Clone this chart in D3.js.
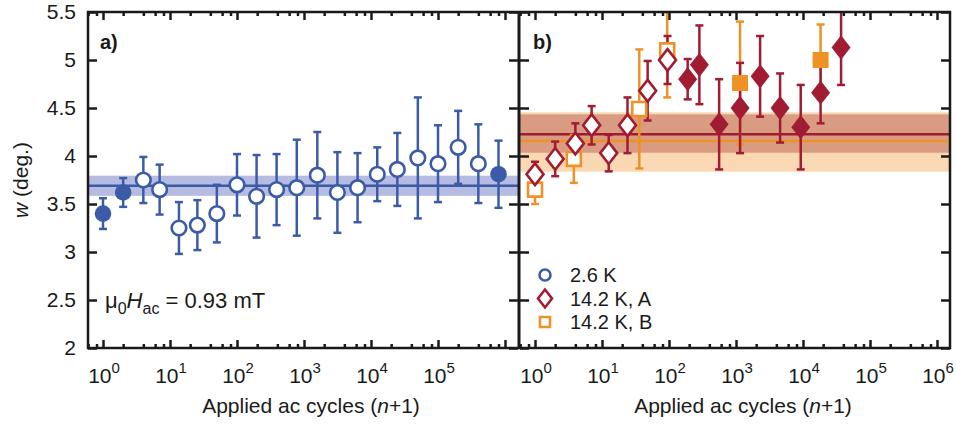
<!DOCTYPE html>
<html>
<head>
<meta charset="utf-8">
<script src="https://cdn.jsdelivr.net/npm/d3@7"></script>
<style>
  body { margin: 0; background: #fff; }
  text { font-family: "Liberation Sans", Arial, Helvetica, sans-serif; fill: #1a1a1a; }
</style>
</head>
<body>
<div id="canvas"></div>
<script>
// panel a: 2.6 K
let aN = [1, 2, 4, 7, 13.6, 25.6, 50, 100, 196, 390, 780, 1580, 3150, 6300, 12400, 24700, 50000, 100000, 200000, 400000, 800000]
let aW = [3.40, 3.62, 3.75, 3.65, 3.25, 3.28, 3.40, 3.70, 3.58, 3.65, 3.67, 3.80, 3.62, 3.67, 3.81, 3.86, 3.98, 3.92, 4.09, 3.92, 3.81]
let aErr = [0.16, 0.15, 0.24, 0.26, 0.27, 0.26, 0.30, 0.32, 0.43, 0.37, 0.50, 0.45, 0.42, 0.36, 0.28, 0.38, 0.63, 0.40, 0.38, 0.41, 0.35]
let aFilled = [1, 1, 0, 0, 0, 0, 0, 0, 0, 0, 0, 0, 0, 0, 0, 0, 0, 0, 0, 0, 1]

// panel b: 14.2 K, A
let bAN = [1, 2, 4, 7, 12.6, 24, 48, 95, 190, 284, 560, 1150, 2290, 4550, 9250, 18300, 37000]
let bAW = [3.81, 3.97, 4.13, 4.32, 4.03, 4.32, 4.68, 5.00, 4.80, 4.95, 4.33, 4.50, 4.83, 4.50, 4.30, 4.66, 5.13]
let bAErr = [0.13, 0.18, 0.21, 0.20, 0.19, 0.29, 0.31, 0.25, 0.21, 0.41, 0.47, 0.47, 0.42, 0.36, 0.44, 0.32, 0.39]
let bAFilled = [0, 0, 0, 0, 0, 0, 0, 0, 1, 1, 1, 1, 1, 1, 1, 1, 1]

// panel b: 14.2 K, B
let bBN = [1, 3.8, 36, 94, 1150, 18300]
let bBW = [3.65, 3.97, 4.49, 5.10, 4.76, 5.00]
let bBErr = [0.15, 0.25, 0.62, 0.49, 0.64, 0.37]
let bBFilled = [0, 0, 0, 0, 1, 1]

// fits: [mean, low, high]
let fitA = [3.69, 3.585, 3.795]
let fitBA = [4.226, 4.034, 4.434]
let fitBB = [4.156, 3.837, 4.455]

let yTicks = [2, 2.5, 3, 3.5, 4, 4.5, 5, 5.5]
let xMajorA = [0, 1, 2, 3, 4, 5]
let xMajorB = [0, 1, 2, 3, 4, 5, 6]

window.onload = function () { setup() }

function setup () {
  const W = 956, H = 424
  const top = 12, bottom = 348
  const blue = "#3b5ba8", red = "#a11c33", orange = "#ef9226"

  let svg = d3.select("#canvas").append("svg")
    .attr("width", W).attr("height", H)

  let y = d3.scaleLinear().domain([2, 5.5]).range([bottom, top])
  let logMin = Math.pow(10, -0.224), logMax = Math.pow(10, 6.194)

  let xa = d3.scaleLog().domain([logMin, logMax]).range([88, 518])
  let xb = d3.scaleLog().domain([logMin, logMax]).range([520, 950])

  function minors (x) {
    let out = []
    for (let e = -1; e <= 6; e++) {
      [2, 4, 6, 8].forEach(m => {
        let v = m * Math.pow(10, e)
        if (v > x.domain()[0] && v < x.domain()[1]) out.push(v)
      })
    }
    return out
  }

  function drawPanel (x, left, right, majors, showY) {
    let g = svg.append("g")

    let majorVals = d3.range(0, 7).map(e => Math.pow(10, e)).filter(v => v < x.domain()[1])

    // bottom & top ticks
    g.append("g").attr("transform", `translate(0,${bottom})`)
      .call(d3.axisBottom(x).tickValues(majorVals).tickSize(-8).tickFormat(""))
    g.append("g").attr("transform", `translate(0,${bottom})`)
      .call(d3.axisBottom(x).tickValues(minors(x)).tickSize(-4).tickFormat(""))
    g.append("g").attr("transform", `translate(0,${top})`)
      .call(d3.axisTop(x).tickValues(majorVals).tickSize(-8).tickFormat(""))
    g.append("g").attr("transform", `translate(0,${top})`)
      .call(d3.axisTop(x).tickValues(minors(x)).tickSize(-4).tickFormat(""))

    // left & right ticks
    let yl = g.append("g").attr("transform", `translate(${left},0)`)
      .call(d3.axisLeft(y).tickValues(yTicks).tickSize(-9).tickPadding(12)
        .tickFormat(showY ? d3.format("") : ""))
    g.append("g").attr("transform", `translate(${right},0)`)
      .call(d3.axisRight(y).tickValues(yTicks).tickSize(-9).tickFormat(""))

    g.selectAll(".domain").remove()
    g.selectAll(".tick line").attr("stroke", "#1a1a1a").attr("stroke-width", 2.5)
    yl.selectAll("text").attr("font-size", 21).attr("fill", "#1a1a1a")
      .style("font-family", "Liberation Sans, Arial, sans-serif")

    // x tick labels 10^k
    majors.forEach(e => {
      let t = svg.append("text")
        .attr("x", x(Math.pow(10, e)) + 1).attr("y", 383)
        .attr("text-anchor", "middle").attr("font-size", 21)
      t.append("tspan").text("10")
      t.append("tspan").attr("dy", -10).attr("font-size", 15).text(e)
    })

    // x label
    let lab = svg.append("text")
      .attr("x", (left + right) / 2 + 8).attr("y", 413)
      .attr("text-anchor", "middle").attr("font-size", 21)
    lab.append("tspan").text("Applied ac cycles (")
    lab.append("tspan").attr("font-style", "italic").text("n")
    lab.append("tspan").text("+1)")
  }

  function drawBand (x, clip, fit, bandColor) {
    let d = x.domain()
    svg.append("rect").attr("clip-path", clip)
      .attr("x", x(d[0])).attr("width", x(d[1]) - x(d[0]))
      .attr("y", y(fit[2])).attr("height", y(fit[1]) - y(fit[2]))
      .attr("fill", bandColor)
  }

  function drawLine (x, clip, fit, lineColor) {
    let d = x.domain()
    svg.append("line").attr("clip-path", clip)
      .attr("x1", x(d[0])).attr("x2", x(d[1]))
      .attr("y1", y(fit[0])).attr("y2", y(fit[0]))
      .attr("stroke", lineColor).attr("stroke-width", 2.5)
  }

  function drawErrors (x, clip, ns, ws, errs, color) {
    let data = ns.map((n, i) => ({ n: n, w: ws[i], e: errs[i] }))
    let g = svg.append("g").attr("clip-path", clip)
      .attr("stroke", color).attr("stroke-width", 2.5)
    g.selectAll("line.v").data(data).join("line")
      .attr("x1", d => x(d.n)).attr("x2", d => x(d.n))
      .attr("y1", d => y(d.w - d.e)).attr("y2", d => y(d.w + d.e))
    g.selectAll("line.t").data(data).join("line")
      .attr("x1", d => x(d.n) - 4).attr("x2", d => x(d.n) + 4)
      .attr("y1", d => y(d.w + d.e)).attr("y2", d => y(d.w + d.e))
    g.selectAll("line.b").data(data).join("line")
      .attr("x1", d => x(d.n) - 4).attr("x2", d => x(d.n) + 4)
      .attr("y1", d => y(d.w - d.e)).attr("y2", d => y(d.w - d.e))
  }

  function markerPath (shape, s) {
    if (shape == "diamond") return `M0,${-s * 1.28}L${s},0L0,${s * 1.28}L${-s},0Z`
    if (shape == "square") return `M${-s},${-s}H${s}V${s}H${-s}Z`
    return d3.symbol(d3.symbolCircle, Math.PI * s * s)()
  }

  function drawMarkers (x, clip, ns, ws, filled, color, shape, s) {
    let data = ns.map((n, i) => ({ n: n, w: ws[i], f: filled[i] }))
    svg.append("g").attr("clip-path", clip)
      .selectAll("path").data(data).join("path")
      .attr("transform", d => `translate(${x(d.n)},${y(d.w)})`)
      .attr("d", d => markerPath(shape, d.f ? s + 1 : s))
      .attr("fill", d => d.f ? color : "#fff")
      .attr("stroke", color)
      .attr("stroke-width", d => d.f ? 0 : 2.6)
  }

  // panel a
  let clipA = "url(#clipA)"
  svg.append("clipPath").attr("id", "clipA")
    .append("rect").attr("x", 88).attr("y", top).attr("width", 430).attr("height", bottom - top)
  drawBand(xa, clipA, fitA, "#b5bbe1")
  drawLine(xa, clipA, fitA, blue)
  drawErrors(xa, clipA, aN, aW, aErr, blue)
  drawMarkers(xa, clipA, aN, aW, aFilled, blue, "circle", 7.3)

  // panel b
  let clipB = "url(#clipB)"
  svg.append("clipPath").attr("id", "clipB")
    .append("rect").attr("x", 520).attr("y", top).attr("width", 430).attr("height", bottom - top)
  drawBand(xb, clipB, fitBB, "#fbd8b4")
  drawBand(xb, clipB, fitBA, "#d99b81")
  drawLine(xb, clipB, fitBA, red)
  drawLine(xb, clipB, fitBB, orange)
  drawErrors(xb, clipB, bBN, bBW, bBErr, orange)
  drawErrors(xb, clipB, bAN, bAW, bAErr, red)
  drawMarkers(xb, clipB, bBN, bBW, bBFilled, orange, "square", 7)
  drawMarkers(xb, clipB, bAN, bAW, bAFilled, red, "diamond", 8.5)

  // axes and frames on top
  drawPanel(xa, 88, 518, xMajorA, true)
  drawPanel(xb, 520, 950, xMajorB, false)
  svg.append("rect").attr("x", 88).attr("y", top).attr("width", 862).attr("height", bottom - top)
    .attr("fill", "none").attr("stroke", "#1a1a1a").attr("stroke-width", 2.5)
  svg.append("line").attr("x1", 519).attr("x2", 519).attr("y1", top).attr("y2", bottom)
    .attr("stroke", "#1a1a1a").attr("stroke-width", 3)

  // y label
  let yl = svg.append("text").attr("transform", "translate(28,180) rotate(-90)")
    .attr("text-anchor", "middle").attr("font-size", 21)
  yl.append("tspan").attr("font-style", "italic").text("w")
  yl.append("tspan").text(" (deg.)")

  // panel letters
  svg.append("text").attr("x", 100).attr("y", 49).attr("font-size", 20)
    .attr("font-weight", "bold").text("a)")
  svg.append("text").attr("x", 533).attr("y", 49).attr("font-size", 20)
    .attr("font-weight", "bold").text("b)")

  // annotation
  let ann = svg.append("text").attr("x", 105).attr("y", 308).attr("font-size", 22)
  ann.append("tspan").text("\u03bc")
  ann.append("tspan").attr("dy", 6).attr("font-size", 16).text("0")
  ann.append("tspan").attr("dy", -6).attr("font-style", "italic").text("H")
  ann.append("tspan").attr("dy", 6).attr("font-size", 16).text("ac")
  ann.append("tspan").attr("dy", -6).text(" = 0.93 mT")

  // legend
  let legend = [
    { label: "2.6 K", color: blue, shape: "circle", s: 5.5 },
    { label: "14.2 K, A", color: red, shape: "diamond", s: 7 },
    { label: "14.2 K, B", color: orange, shape: "square", s: 5 }
  ]
  legend.forEach((d, i) => {
    let ly = 275 + i * 23.5
    svg.append("path").attr("transform", `translate(545,${ly})`)
      .attr("d", markerPath(d.shape, d.s))
      .attr("fill", "#fff").attr("stroke", d.color).attr("stroke-width", 2.6)
    svg.append("text").attr("x", 570).attr("y", ly + 7).attr("font-size", 20).text(d.label)
  })
}
</script>
</body>
</html>
